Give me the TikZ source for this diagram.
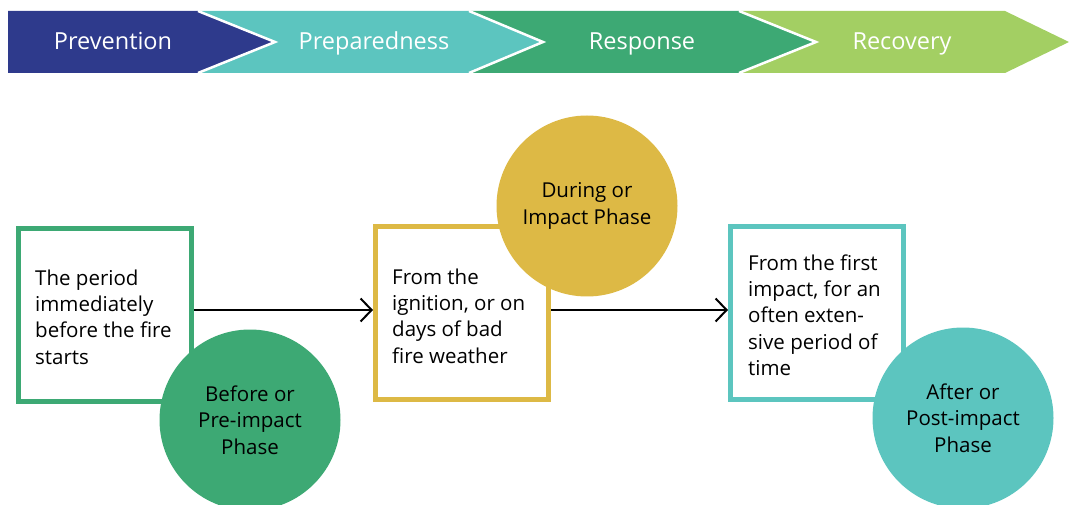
\documentclass[tikz,border=0pt]{standalone}
\usepackage{fontspec}
\setmainfont{Open Sans}
\usetikzlibrary{arrows.meta}
\definecolor{cPrev}{HTML}{2E3A8C}
\definecolor{cPrep}{HTML}{5CC5BF}
\definecolor{cResp}{HTML}{3DA974}
\definecolor{cReco}{HTML}{A3CF63}
\definecolor{cYel}{HTML}{DDB945}
\tikzset{
  chev/.style={white, anchor=base, font=\fontsize{23.5}{28}\selectfont},
  notch/.style={white, line width=2.5pt, line join=miter},
  phasebox/.style={draw=#1, line width=5pt, minimum width=173pt, minimum height=173pt, inner sep=0pt},
  boxtext/.style={align=left, anchor=west, font=\fontsize{20.5}{26.3}\selectfont, inner sep=0pt},
  phasecirc/.style={circle, fill=#1, minimum size=181pt, inner sep=0pt, align=center, font=\fontsize{20.5}{26.3}\selectfont},
  flow/.style={-{Straight Barb[length=11pt,width=23pt,line width=2pt]}, line width=2pt, black}
}
\begin{document}
\begin{tikzpicture}[x=1pt,y=-1pt]
\useasboundingbox (0,0) rectangle (1069,505);
% chevrons
\fill[cReco] (739,11) -- (1005,11) -- (1069,42) -- (1005,73) -- (739,73) -- (816,42) -- cycle;
\fill[cResp] (469,11) -- (739,11) -- (816,42) -- (739,73) -- (469,73) -- (543,42) -- cycle;
\draw[notch] (739,11) -- (816,42) -- (739,73);
\fill[cPrep] (198,11) -- (469,11) -- (543,42) -- (469,73) -- (198,73) -- (275,42) -- cycle;
\draw[notch] (469,11) -- (543,42) -- (469,73);
\fill[cPrev] (8,11) -- (198,11) -- (275,42) -- (198,73) -- (8,73) -- cycle;
\draw[notch] (198,11) -- (275,42) -- (198,73);
\node[chev] (prev) at (113,50) {Prevention};
\node[chev] (prep) at (374,50) {Preparedness};
\node[chev] (resp) at (642,50) {Response};
\node[chev] (reco) at (902,50) {Recovery};
% boxes
\node[phasebox=cResp] (b1) at (105,315) {};
\node[phasebox=cYel] (b2) at (462,313) {};
\node[phasebox=cPrep] (b3) at (817,313) {};
\node[boxtext] (t1) at (35,317) {The period\\immediately\\before the fire\\starts};
\node[boxtext] (t2) at (392,316) {From the\\ignition, or on\\days of bad\\fire weather};
\node[boxtext] (t3) at (748,315) {From the first\\impact, for an\\often exten-\\sive period of\\time};
% circles
\node[phasecirc=cResp] (c1) at (250,420) {Before or\\Pre-impact\\Phase};
\node[phasecirc=cYel] (c2) at (587,206) {During or\\Impact Phase};
\node[phasecirc=cPrep] (c3) at (963,418) {After or\\Post-impact\\Phase};
% arrows
\draw[flow] (b1.east |- 0,310) -- (b2.west |- 0,310);
\draw[flow] (b2.east |- 0,310) -- (b3.west |- 0,310);
\end{tikzpicture}
\end{document}
